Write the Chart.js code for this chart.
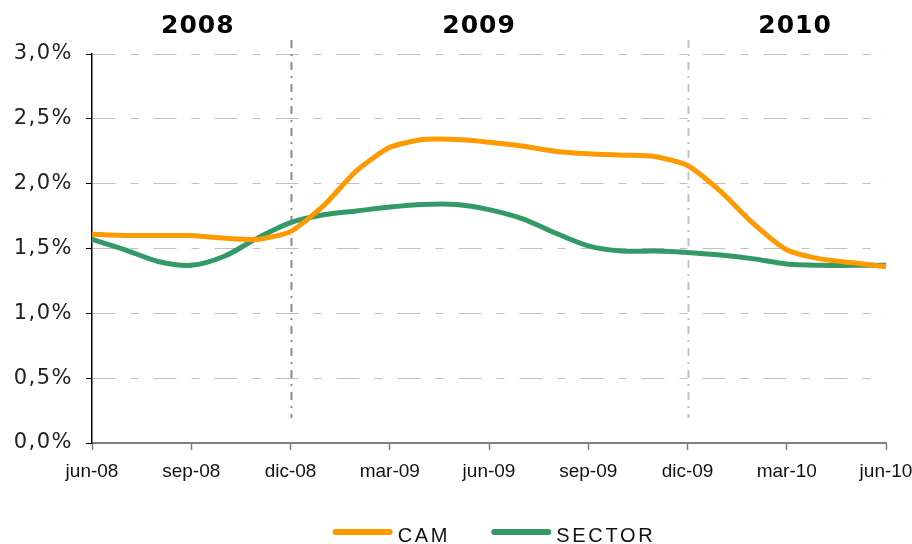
<!DOCTYPE html>
<html>
<head>
<meta charset="utf-8">
<script src="https://cdn.jsdelivr.net/npm/chart.js@4.4.0/dist/chart.umd.min.js"></script>
<style>
  html, body { margin: 0; padding: 0; background: #fff; }
  #wrap { width: 912px; height: 544px; }
</style>
</head>
<body>
<div id="wrap"><canvas id="tipoChart"></canvas></div>
<script>
// Datos (tipo medio, %)
const meses = ['jun-08', 'jul-08', 'ago-08', 'sep-08', 'oct-08', 'nov-08', 'dic-08',
               'ene-09', 'feb-09', 'mar-09', 'abr-09', 'may-09', 'jun-09', 'jul-09',
               'ago-09', 'sep-09', 'oct-09', 'nov-09', 'dic-09', 'ene-10', 'feb-10',
               'mar-10', 'abr-10', 'may-10', 'jun-10'];
const cam = [1.61, 1.60, 1.60, 1.60, 1.58, 1.57, 1.63, 1.83, 2.10, 2.28, 2.34, 2.34, 2.32,
             2.29, 2.25, 2.23, 2.22, 2.21, 2.14, 1.94, 1.69, 1.49, 1.42, 1.39, 1.36];
const sector = [1.57, 1.49, 1.40, 1.37, 1.44, 1.58, 1.70, 1.76, 1.79, 1.82, 1.84, 1.84, 1.80,
                1.73, 1.62, 1.52, 1.48, 1.48, 1.47, 1.45, 1.42, 1.38, 1.37, 1.37, 1.37];
const anios = ['2008', '2009', '2010'];
const separadores = ['dic-08', 'dic-09'];

/**
 * Líneas verticales de cambio de año, rótulos de año y leyenda.
 */
const decoracion = {
    id: 'decoracion',
    beforeDraw(chart) {
        // espaciado de las etiquetas del eje Y
        chart.ctx.letterSpacing = '1.5px';
    },
    beforeDatasetsDraw(chart, args, opts) {
        const { ctx, scales: { x }, chartArea } = chart;
        ctx.letterSpacing = '0px';
        separadores.forEach((mes, i) => {
            const px = Math.round(x.getPixelForValue(meses.indexOf(mes))) + 0.5;
            ctx.save();
            ctx.strokeStyle = opts.coloresSeparador[i];
            ctx.lineWidth = 2;
            ctx.setLineDash([8, 6, 2, 6]);
            ctx.beginPath();
            ctx.moveTo(px, chartArea.top - 14);
            ctx.lineTo(px, chartArea.bottom - 25);
            ctx.stroke();
            ctx.restore();
        });
    },
    afterDraw(chart, args, opts) {
        const { ctx, scales: { x }, chartArea } = chart;
        ctx.save();
        // rótulos de año
        ctx.font = 'bold 25px "DejaVu Sans"';
        ctx.fillStyle = '#000';
        ctx.textAlign = 'center';
        ctx.textBaseline = 'alphabetic';
        ctx.letterSpacing = '1px';
        anios.forEach((a, i) => {
            ctx.fillText(a, x.getPixelForValue(opts.posAnios[i]), chartArea.top - 21);
        });

        // leyenda
        ctx.font = '20px "Liberation Sans"';
        ctx.letterSpacing = '2.7px';
        ctx.textAlign = 'left';
        const linea = 60, hueco = 5, sep = 41;
        const items = chart.data.datasets.map(ds => ({
            texto: ds.label, color: ds.borderColor, ancho: ctx.measureText(ds.label).width
        }));
        const total = items.reduce((s, it) => s + linea + hueco + it.ancho, 0) + sep * (items.length - 1);
        let px = (chartArea.left + chartArea.right) / 2 + 5 - total / 2;
        const py = 532;
        items.forEach(it => {
            ctx.strokeStyle = it.color;
            ctx.lineWidth = 6;
            ctx.lineCap = 'round';
            ctx.beginPath();
            ctx.moveTo(px + 3, py);
            ctx.lineTo(px + linea - 3, py);
            ctx.stroke();
            ctx.fillStyle = '#111';
            ctx.fillText(it.texto, px + linea + hueco, py + 10);
            px += linea + hueco + it.ancho + sep;
        });
        ctx.restore();
    }
};

new Chart(document.getElementById('tipoChart').getContext('2d'), {
    type: 'line',
    data: {
        labels: meses,
        datasets: [
            {
                label: 'CAM',
                data: cam,
                borderColor: '#FF9900',
                backgroundColor: '#FF9900',
                borderWidth: 5,
                tension: 0.2,
                pointRadius: 0,
                fill: false
            },
            {
                label: 'SECTOR',
                data: sector,
                borderColor: '#339966',
                backgroundColor: '#339966',
                borderWidth: 5,
                tension: 0.3,
                pointRadius: 0,
                fill: false
            }
        ]
    },
    options: {
        responsive: true,
        maintainAspectRatio: false,
        animation: false,
        layout: { padding: { top: 54, right: 26, bottom: 50, left: 0 } },
        plugins: {
            legend: { display: false },
            tooltip: { enabled: false },
            decoracion: {
                posAnios: [3.2, 11.7, 21.25],
                coloresSeparador: ['#8c8c8c', '#c4c4c4']
            }
        },
        scales: {
            x: {
                grid: {
                    drawOnChartArea: false,
                    tickLength: 7,
                    tickWidth: 1.5,
                    tickColor: (c) => c.index % 3 === 0 ? '#808080' : 'rgba(0,0,0,0)'
                },
                border: { color: '#808080', width: 2 },
                ticks: {
                    z: 1,
                    autoSkip: false,
                    maxRotation: 0,
                    padding: 10,
                    color: '#111',
                    font: { family: '"Liberation Sans", Arial, sans-serif', size: 19 },
                    callback: function (val, index) {
                        return index % 3 === 0 ? this.getLabelForValue(val) : '';
                    }
                },
                afterFit: (s) => { s.height = 51; s.paddingLeft = 0; s.paddingRight = 0; }
            },
            y: {
                min: 0,
                max: 3,
                grid: {
                    color: '#c0c0c0',
                    lineWidth: 1,
                    tickColor: '#000',
                    tickLength: 6,
                    tickBorderDash: []
                },
                border: { color: '#000', width: 1.5, dash: [23, 15, 8, 15] },
                ticks: {
                    stepSize: 0.5,
                    padding: 13,
                    color: '#222',
                    font: { family: '"DejaVu Sans", sans-serif', size: 21 },
                    callback: (v) => v.toFixed(1).replace('.', ',') + '%'
                },
                afterFit: (s) => { s.width = 92; s.paddingTop = 0; s.paddingBottom = 0; }
            }
        }
    },
    plugins: [decoracion]
});
</script>
</body>
</html>
